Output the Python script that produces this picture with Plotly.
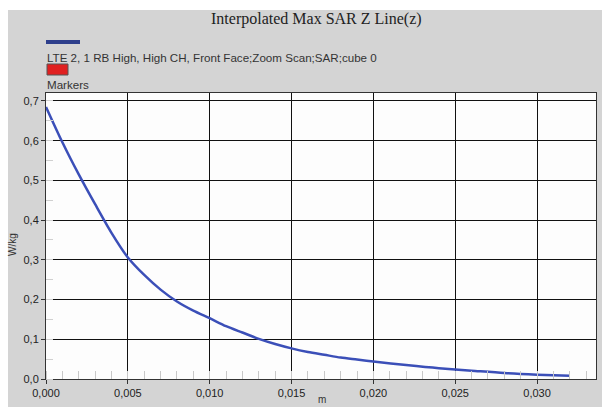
import plotly.graph_objects as go

# Data (z in metres, SAR in W/kg)
z_m = [0.000, 0.001, 0.002, 0.003, 0.004, 0.005, 0.006, 0.007, 0.008, 0.009,
       0.010, 0.011, 0.012, 0.013, 0.014, 0.015, 0.016, 0.017, 0.018, 0.019,
       0.020, 0.022, 0.024, 0.026, 0.028, 0.030, 0.032]
sar_wkg = [0.685, 0.596, 0.515, 0.440, 0.368, 0.306, 0.262, 0.225, 0.195, 0.172,
           0.153, 0.133, 0.117, 0.101, 0.088, 0.077, 0.068, 0.061, 0.054, 0.049,
           0.044, 0.035, 0.027, 0.021, 0.015, 0.011, 0.008]

title_text = "Interpolated Max SAR Z Line(z)"
series_name = "LTE 2, 1 RB High, High CH, Front Face;Zoom Scan;SAR;cube 0"
markers_name = "Markers"
x_title = "m"
y_title = "W/kg"

W, H = 602, 407
ML, MR, MT, MB = 46, 6, 93, 28
PW, PH = W - ML - MR, H - MT - MB

def px(xp):
    return (xp - ML) / PW

def py(yp):
    return (H - MB - yp) / PH

fig = go.Figure()
fig.add_trace(go.Scatter(x=z_m, y=sar_wkg, mode="lines", name=series_name,
                         line=dict(color="#3b4fb8", width=2.5, shape="spline", smoothing=0.8),
                         showlegend=False))

axis_font = dict(family="Liberation Sans, Arial, sans-serif", size=11, color="#222")

fig.update_layout(
    width=W, height=H,
    margin=dict(l=ML, r=MR, t=MT, b=MB, pad=0),
    paper_bgcolor="#d4d4d4",
    plot_bgcolor="#fdfdfd",
    separators=",.",
    showlegend=False,
    xaxis=dict(range=[0, 0.0336], dtick=0.005, tick0=0, tickformat=".3f",
               showgrid=True, gridcolor="#111", gridwidth=1,
               zeroline=False, showline=True, linecolor="#333", linewidth=1, mirror=True,
               ticks="outside", ticklen=4, tickcolor="#333",
               tickfont=axis_font,
               minor=dict(dtick=0.001, ticks="inside", ticklen=8, tickcolor="#c8c8c8",
                          showgrid=False)),
    yaxis=dict(range=[0, 0.72], dtick=0.1, tick0=0, tickformat=".1f",
               showgrid=True, gridcolor="#111", gridwidth=1,
               zeroline=False, showline=True, linecolor="#333", linewidth=1, mirror=True,
               ticks="outside", ticklen=4, tickcolor="#333",
               tickfont=axis_font,
               minor=dict(dtick=0.05, ticks="inside", ticklen=7, tickcolor="#d0d0d0",
                          showgrid=False)),
)

shapes = [
    # white outer border strips (left and top)
    dict(type="rect", xref="paper", yref="paper", x0=px(0), x1=px(8), y0=py(H), y1=py(0),
         fillcolor="white", line=dict(width=0), layer="above"),
    dict(type="rect", xref="paper", yref="paper", x0=px(0), x1=px(W), y0=py(10), y1=py(0),
         fillcolor="white", line=dict(width=0), layer="above"),
    # legend swatches
    dict(type="rect", xref="paper", yref="paper", x0=px(46), x1=px(80), y0=py(44), y1=py(40),
         fillcolor="#2e3f8c", line=dict(width=0), layer="above"),
    dict(type="rect", xref="paper", yref="paper", x0=px(47), x1=px(68), y0=py(75), y1=py(64),
         fillcolor="#e02020", line=dict(color="#555", width=1), layer="above"),
]
fig.update_layout(shapes=shapes)

leg_font = dict(family="Liberation Sans, Arial, sans-serif", size=11.6, color="#333")
annotations = [
    dict(text=title_text, xref="paper", yref="paper", x=px(316), y=py(19),
         xanchor="center", yanchor="middle", showarrow=False,
         font=dict(family="Liberation Serif, Times New Roman, serif", size=16, color="#222")),
    dict(text=series_name, xref="paper", yref="paper", x=px(45), y=py(57),
         xanchor="left", yanchor="middle", showarrow=False, font=leg_font),
    dict(text=markers_name, xref="paper", yref="paper", x=px(45), y=py(84),
         xanchor="left", yanchor="middle", showarrow=False, font=leg_font),
    dict(text=y_title, xref="paper", yref="paper", x=px(12), y=py(245),
         xanchor="center", yanchor="middle", showarrow=False, textangle=-90,
         font=dict(family="Liberation Sans, Arial, sans-serif", size=10, color="#333")),
    dict(text=x_title, xref="paper", yref="paper", x=px(322), y=py(407),
         xanchor="center", yanchor="bottom", showarrow=False,
         font=dict(family="Liberation Sans, Arial, sans-serif", size=10, color="#333")),
]
fig.update_layout(annotations=annotations)

fig.write_html("out.html")
